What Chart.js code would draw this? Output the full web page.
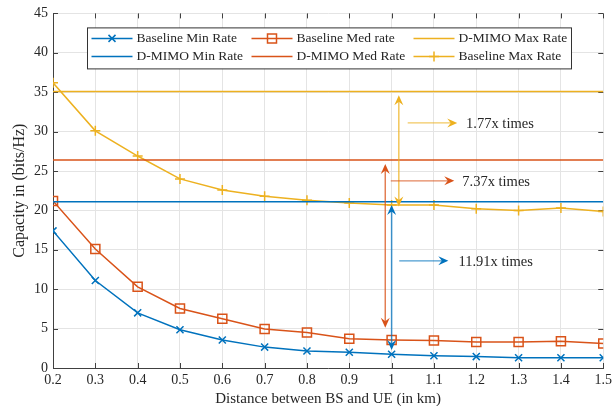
<!DOCTYPE html>
<html>
<head>
<meta charset="utf-8">
<script src="https://cdn.jsdelivr.net/npm/chart.js@4.4.1/dist/chart.umd.min.js"></script>
<style>
    html, body { margin: 0; padding: 0; background: #fff; }
</style>
</head>
<body>
<canvas id="capacityChart" width="616" height="406"></canvas>
<script>
// Distance between BS and UE (km)
const distances = [0.2, 0.3, 0.4, 0.5, 0.6, 0.7, 0.8, 0.9, 1.0, 1.1, 1.2, 1.3, 1.4, 1.5];

// Capacity (bits/Hz)
const baselineMin = [17.4, 11.1, 7.0, 4.85, 3.55, 2.65, 2.15, 2.0, 1.75, 1.55, 1.45, 1.3, 1.3, 1.3];
const baselineMed = [21.2, 15.1, 10.3, 7.55, 6.25, 4.95, 4.5, 3.7, 3.55, 3.5, 3.3, 3.3, 3.4, 3.1];
const baselineMax = [36.2, 30.1, 26.9, 24.0, 22.6, 21.8, 21.3, 20.95, 20.7, 20.7, 20.2, 20.0, 20.3, 19.85];
const dmimoMin = 21.1;
const dmimoMed = 26.4;
const dmimoMax = 35.1;

const xTicks = [0.2, 1.5, 0.1];
const yTicks = [0, 45, 5];

const blue = '#0072BD';
const orange = '#D95319';
const yellow = '#EDB120';
const serif = "'Liberation Serif', 'DejaVu Serif', serif";

function points(values) {
    return distances.map((d, i) => ({ x: d, y: values[i] }));
}

function flat(value) {
    return [{ x: distances[0], y: value }, { x: distances[distances.length - 1], y: value }];
}

// ratio arrows (data units)
const ratioArrows = [
    { color: yellow, x: 1.017, from: 20.5, to: 34.6, hy: 31.1, hx0: 1.038, hx1: 1.155, text: '1.77x times', tx: 1.176 },
    { color: orange, x: 0.985, from: 5.1, to: 25.9, hy: 23.75, hx0: 0.998, hx1: 1.148, text: '7.37x times', tx: 1.167 },
    { color: blue, x: 1.0, from: 2.3, to: 20.7, hy: 13.6, hx0: 1.018, hx1: 1.134, text: '11.91x times', tx: 1.158 },
];

const legendItems = [
    { label: 'Baseline Min Rate', color: blue, marker: 'x' },
    { label: 'Baseline Med rate', color: orange, marker: 'square' },
    { label: 'D-MIMO Max Rate', color: yellow, marker: null },
    { label: 'D-MIMO Min Rate', color: blue, marker: null },
    { label: 'D-MIMO Med Rate', color: orange, marker: null },
    { label: 'Baseline Max Rate', color: yellow, marker: 'plus' },
];

function arrowHead(ctx, x, y, angle, color) {
    ctx.save();
    ctx.translate(x, y);
    ctx.rotate(angle);
    ctx.fillStyle = color;
    ctx.beginPath();
    ctx.moveTo(0, 0);
    ctx.lineTo(-10, -4.5);
    ctx.lineTo(-6.5, 0);
    ctx.lineTo(-10, 4.5);
    ctx.closePath();
    ctx.fill();
    ctx.restore();
}

function marker(ctx, type, x, y, color) {
    ctx.strokeStyle = color;
    ctx.lineWidth = 1.5;
    ctx.beginPath();
    if (type === 'x') {
        ctx.moveTo(x - 3.5, y - 3.5); ctx.lineTo(x + 3.5, y + 3.5);
        ctx.moveTo(x + 3.5, y - 3.5); ctx.lineTo(x - 3.5, y + 3.5);
    } else if (type === 'square') {
        ctx.rect(x - 4.5, y - 4.5, 9, 9);
    } else if (type === 'plus') {
        ctx.moveTo(x - 5, y); ctx.lineTo(x + 5, y);
        ctx.moveTo(x, y - 5); ctx.lineTo(x, y + 5);
    }
    ctx.stroke();
}

const extrasPlugin = {
    id: 'extras',
    beforeDatasetsDraw(chart) {
        const ctx = chart.ctx;
        const area = chart.chartArea;
        const xs = chart.scales.x;
        const ys = chart.scales.y;
        // inward ticks
        ctx.save();
        ctx.strokeStyle = '#404040';
        ctx.lineWidth = 1;
        ctx.beginPath();
        xs.ticks.forEach(t => {
            const px = Math.round(xs.getPixelForValue(t.value)) + 0.5;
            ctx.moveTo(px, area.bottom); ctx.lineTo(px, area.bottom - 5);
            ctx.moveTo(px, area.top); ctx.lineTo(px, area.top + 5);
        });
        ys.ticks.forEach(t => {
            const py = Math.round(ys.getPixelForValue(t.value)) + 0.5;
            ctx.moveTo(area.left, py); ctx.lineTo(area.left + 5, py);
            ctx.moveTo(area.right, py); ctx.lineTo(area.right - 5, py);
        });
        ctx.stroke();
        ctx.restore();
    },
    afterDatasetsDraw(chart) {
        const ctx = chart.ctx;
        const area = chart.chartArea;
        const xs = chart.scales.x;
        const ys = chart.scales.y;

        // ratio arrows
        ratioArrows.forEach(a => {
            const vx = xs.getPixelForValue(a.x);
            const y0 = ys.getPixelForValue(a.from);
            const y1 = ys.getPixelForValue(a.to);
            ctx.save();
            ctx.strokeStyle = a.color;
            ctx.lineWidth = 1.5;
            ctx.globalAlpha = 0.75;
            ctx.beginPath();
            ctx.moveTo(vx, y0 - 6); ctx.lineTo(vx, y1 + 6);
            ctx.stroke();
            ctx.globalAlpha = 1;
            arrowHead(ctx, vx, y0, Math.PI / 2, a.color);
            arrowHead(ctx, vx, y1, -Math.PI / 2, a.color);

            const hy = ys.getPixelForValue(a.hy);
            const hx0 = xs.getPixelForValue(a.hx0);
            const hx1 = xs.getPixelForValue(a.hx1);
            ctx.globalAlpha = 0.7;
            ctx.lineWidth = 1.2;
            ctx.beginPath();
            ctx.moveTo(hx0, hy); ctx.lineTo(hx1 - 6, hy);
            ctx.stroke();
            ctx.globalAlpha = 1;
            arrowHead(ctx, hx1, hy, 0, a.color);

            ctx.fillStyle = '#262626';
            ctx.font = '14.5px ' + serif;
            ctx.textAlign = 'left';
            ctx.textBaseline = 'middle';
            ctx.fillText(a.text, xs.getPixelForValue(a.tx), hy + 1);
            ctx.restore();
        });

        // legend box
        const bx = area.left + 34.5;
        const by = area.top + 14.5;
        const bw = 484;
        const bh = 41;
        ctx.save();
        ctx.fillStyle = '#fff';
        ctx.fillRect(bx, by, bw, bh);
        ctx.strokeStyle = '#333';
        ctx.lineWidth = 1;
        ctx.strokeRect(bx, by, bw, bh);
        const cols = [4, 164, 326];
        const rows = [10.5, 28.5];
        legendItems.forEach((item, i) => {
            const cx = bx + cols[i % 3];
            const cy = by + rows[Math.floor(i / 3)];
            ctx.strokeStyle = item.color;
            ctx.lineWidth = 1.5;
            ctx.beginPath();
            ctx.moveTo(cx, cy); ctx.lineTo(cx + 41, cy);
            ctx.stroke();
            if (item.marker) marker(ctx, item.marker, cx + 20.5, cy, item.color);
            ctx.fillStyle = '#262626';
            ctx.font = '13.5px ' + serif;
            ctx.textAlign = 'left';
            ctx.textBaseline = 'middle';
            ctx.fillText(item.label, cx + 45, cy + 0.5);
        });
        ctx.restore();
    }
};

const lineBase = { borderWidth: 1.5, tension: 0, pointBackgroundColor: 'rgba(0,0,0,0)', pointBorderWidth: 1.5 };

new Chart(document.getElementById('capacityChart'), {
    type: 'line',
    data: {
        datasets: [
            { ...lineBase, label: 'D-MIMO Max Rate', data: flat(dmimoMax), borderColor: yellow, pointRadius: 0 },
            { ...lineBase, label: 'D-MIMO Med Rate', data: flat(dmimoMed), borderColor: orange, pointRadius: 0 },
            { ...lineBase, label: 'D-MIMO Min Rate', data: flat(dmimoMin), borderColor: blue, pointRadius: 0 },
            { ...lineBase, label: 'Baseline Max Rate', data: points(baselineMax), borderColor: yellow, pointBorderColor: yellow, pointStyle: 'cross', pointRadius: 5 },
            { ...lineBase, label: 'Baseline Med rate', data: points(baselineMed), borderColor: orange, pointBorderColor: orange, pointStyle: 'rect', pointRadius: 6.4 },
            { ...lineBase, label: 'Baseline Min Rate', data: points(baselineMin), borderColor: blue, pointBorderColor: blue, pointStyle: 'crossRot', pointRadius: 5 },
        ]
    },
    options: {
        responsive: false,
        animation: false,
        layout: { padding: { top: 13, right: 10, left: 0, bottom: 0 } },
        plugins: { legend: { display: false }, tooltip: { enabled: false } },
        scales: {
            x: {
                type: 'linear',
                min: xTicks[0],
                max: xTicks[1],
                afterFit: s => { s.height = 38; },
                afterBuildTicks: s => {
                    s.ticks = distances.map(v => ({ value: v }));
                },
                ticks: {
                    stepSize: xTicks[2],
                    color: '#262626',
                    font: { family: serif, size: 14 },
                    padding: 4,
                    maxRotation: 0,
                    callback: v => Number(v.toFixed(1)).toString()
                },
                grid: { color: '#e4e4e4', drawTicks: false, lineWidth: 1 },
                border: { color: '#404040', width: 1 },
                title: {
                    display: true,
                    text: 'Distance between BS and UE (in km)',
                    color: '#262626',
                    font: { family: serif, size: 15 },
                    padding: { top: 0, bottom: -2 }
                }
            },
            y: {
                min: yTicks[0],
                max: yTicks[1],
                afterFit: s => { s.width = 53; },
                ticks: {
                    stepSize: yTicks[2],
                    color: '#262626',
                    font: { family: serif, size: 14 },
                    padding: 5
                },
                grid: { color: '#e4e4e4', drawTicks: false, lineWidth: 1 },
                border: { color: '#404040', width: 1 },
                title: {
                    display: true,
                    text: 'Capacity in (bits/Hz)',
                    color: '#262626',
                    font: { family: serif, size: 16 },
                    padding: { top: 10, bottom: 0 }
                }
            }
        }
    },
    plugins: [extrasPlugin]
});
</script>
</body>
</html>
